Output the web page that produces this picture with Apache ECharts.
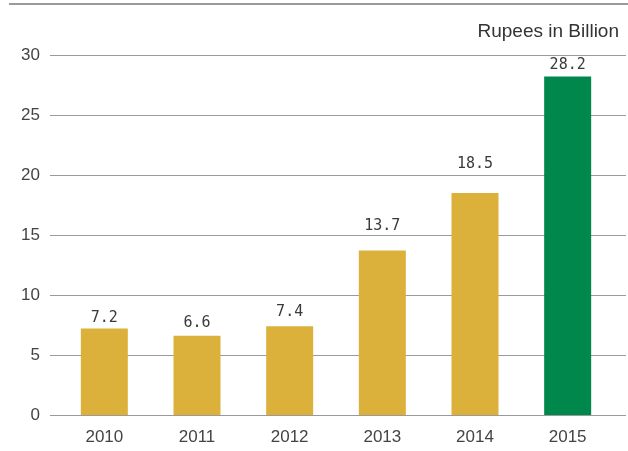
<!DOCTYPE html>
<html><head><meta charset="utf-8">
<script src="https://cdn.jsdelivr.net/npm/echarts@6/dist/echarts.min.js"></script>
<style>html,body{margin:0;padding:0;background:#fff}#c{width:628px;height:451px}</style>
</head><body><div id="c"></div>
<script>
const categories = ['2010','2011','2012','2013','2014','2015'];
const values = [7.2, 6.6, 7.4, 13.7, 18.5, 28.2];
const yTicks = [0, 5, 10, 15, 20, 25, 30];
const unitLabel = 'Rupees in Billion';

const gold = '#DCB13B', green = '#00874B';
const labelGap = [3, 5, 7, 16.5, 21, 3.5];

const chart = echarts.init(document.getElementById('c'));
chart.setOption({
  animation: false,
  graphic: [{
    type: 'line', shape: {x1: 9, y1: 4, x2: 628, y2: 4},
    style: {stroke: '#9a9a9a', lineWidth: 2}
  }],
  title: {
    text: unitLabel, right: 4, top: 17,
    textStyle: {fontFamily: 'Liberation Sans', fontSize: 19, fontWeight: 'normal', color: '#333'}
  },
  grid: [
    {left: 50, right: 2, top: 55, bottom: 36},
    {left: 58, right: 14, top: 55, bottom: 36}
  ],
  xAxis: [
    {gridIndex: 0, type: 'category', data: categories, show: false},
    {gridIndex: 1, type: 'category', data: categories,
     axisLine: {show: false}, axisTick: {show: false},
     axisLabel: {margin: 14, color: '#444', fontSize: 17, fontFamily: 'Liberation Sans'}}
  ],
  yAxis: [
    {gridIndex: 0, type: 'value', min: yTicks[0], max: yTicks[yTicks.length-1], interval: yTicks[1] - yTicks[0],
     axisLine: {show: false}, axisTick: {show: false},
     axisLabel: {margin: 10, color: '#444', fontSize: 17, fontFamily: 'Liberation Sans'},
     splitLine: {lineStyle: {color: '#9a9a9a', width: 1}}},
    {gridIndex: 1, type: 'value', min: yTicks[0], max: yTicks[yTicks.length-1], show: false,
     splitLine: {show: false}}
  ],
  series: [{
    type: 'bar', xAxisIndex: 1, yAxisIndex: 1,
    barWidth: 47,
    data: values.map((v, i) => ({
      value: v,
      itemStyle: {color: i === values.length - 1 ? green : gold},
      label: {distance: labelGap[i]}
    })),
    label: {show: true, position: 'top', color: '#3a3a3a', fontSize: 15,
            fontFamily: 'DejaVu Sans Mono', formatter: p => p.value.toFixed(1)}
  }]
});
</script></body></html>
